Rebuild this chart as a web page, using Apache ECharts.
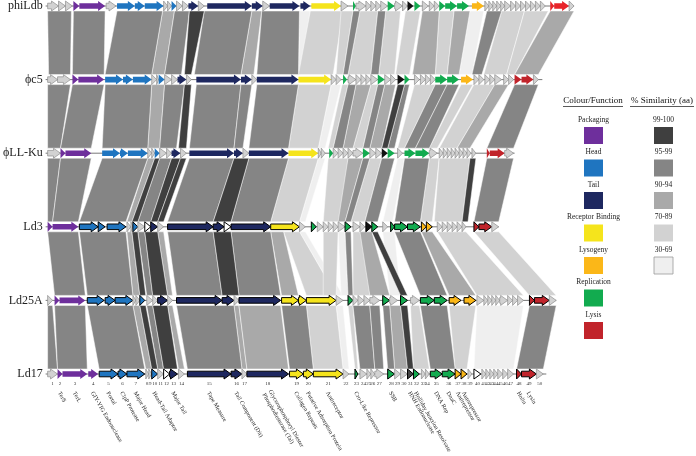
<!DOCTYPE html>
<html><head><meta charset="utf-8">
<script src="https://cdn.jsdelivr.net/npm/echarts/dist/echarts.min.js"></script>
<style>html,body{margin:0;padding:0;background:#fff}#c{width:696px;height:456px}</style>
</head><body><div id="c"></div>
<script>
// ---------------- DATA ----------------
const genomes = ['phiLdb', 'ϕc5', 'ϕLL-Ku', 'Ld3', 'Ld25A', 'Ld17'];
const genomeSpan = [[40,573],[40,541],[40,513],[40,497],[40,555],[40,545]];

// genes: [start, end, function]  p=packaging h=head t=tail r=receptor binding y=lysogeny R=replication l=lysis L=lysis(bright) g=other k=black d=dark w=hollow
const genes_phiLdb = [[42,53,'g'],[53,60,'g'],[60,67,'g'],[68,74,'p'],[74,100,'p'],[101,111,'g'],[112,130,'h'],[130,140,'h'],[140,159,'h'],[159,163,'g'],[163,167,'g'],[167,172,'h'],[172,178,'g'],[178,184,'g'],[184,194,'t'],[194,200,'g'],[203,248,'t'],[248,259,'t'],[259,266,'g'],[266,296,'t'],[297,307,'t'],[308,338,'r'],[338,345,'g'],[350,353,'R'],[353,363,'g'],[363,368,'g'],[368,373,'g'],[373,378,'g'],[378,385,'g'],[385,392,'R'],[392,400,'g'],[400,405,'g'],[405,411,'k'],[412,418,'R'],[420,426,'g'],[427,432,'g'],[432,437,'g'],[437,443,'R'],[443,455,'R'],[455,467,'R'],[470,482,'y'],[483,487,'g'],[487,491,'g'],[491,495,'g'],[495,499,'g'],[499,503,'g'],[503,509,'g'],[509,514,'g'],[514,519,'g'],[519,524,'g'],[524,529,'g'],[529,534,'g'],[534,539,'g'],[539,544,'g'],[549,553,'L'],[553,568,'L'],[568,573,'g']];
const genes_c5 = [[42,52,'g'],[52,65,'g'],[67,73,'p'],[73,99,'p'],[100,118,'h'],[118,128,'h'],[128,147,'h'],[147,152,'g'],[152,154,'g'],[154,160,'h'],[160,167,'g'],[167,173,'g'],[173,182,'t'],[182,187,'g'],[192,237,'t'],[237,248,'t'],[248,253,'g'],[253,295,'t'],[295,328,'r'],[328,333,'g'],[333,338,'g'],[340,344,'R'],[345,353,'g'],[353,358,'g'],[358,363,'g'],[363,368,'g'],[368,375,'g'],[375,382,'R'],[382,388,'g'],[388,393,'g'],[395,402,'k'],[402,407,'R'],[412,417,'g'],[418,423,'g'],[423,428,'g'],[428,433,'g'],[433,445,'R'],[445,457,'R'],[459,471,'y'],[472,477,'g'],[477,482,'g'],[483,488,'g'],[488,493,'g'],[493,500,'g'],[502,507,'g'],[507,512,'g'],[513,520,'l'],[520,532,'l'],[532,537,'g']];
const genes_LLKu = [[42,55,'g'],[55,60,'p'],[60,86,'p'],[97,115,'h'],[115,123,'h'],[123,143,'h'],[143,147,'g'],[147,150,'g'],[150,155,'h'],[155,162,'g'],[162,167,'g'],[167,176,'t'],[176,182,'g'],[185,230,'t'],[230,239,'t'],[239,245,'g'],[245,285,'t'],[285,315,'r'],[315,318,'g'],[318,322,'g'],[326,330,'R'],[330,335,'g'],[335,340,'g'],[340,345,'g'],[345,350,'g'],[350,360,'g'],[360,367,'R'],[367,373,'g'],[373,379,'g'],[379,385,'k'],[385,392,'R'],[395,400,'g'],[402,413,'R'],[413,427,'R'],[427,435,'g'],[437,441,'g'],[441,445,'g'],[445,449,'g'],[449,453,'g'],[453,457,'g'],[457,461,'g'],[461,465,'g'],[465,469,'g'],[470,474,'g'],[485,488,'l'],[488,503,'l'],[503,512,'g']];
const genes_Ld3 = [[42,47,'p'],[47,73,'p'],[74,93,'h'],[93,100,'h'],[102,121,'h'],[122,126,'g'],[126,128,'g'],[128,133,'h'],[133,140,'g'],[140,146,'w'],[146,153,'t'],[153,159,'g'],[163,209,'t'],[209,220,'t'],[220,227,'w'],[227,267,'t'],[267,296,'r'],[296,302,'g'],[308,313,'R'],[314,320,'g'],[320,325,'g'],[325,330,'g'],[330,335,'g'],[335,342,'g'],[342,348,'R'],[350,357,'g'],[357,362,'g'],[363,369,'k'],[369,375,'R'],[380,385,'g'],[388,392,'R'],[392,405,'R'],[405,418,'R'],[419,424,'y'],[424,430,'y'],[435,440,'g'],[440,445,'g'],[445,450,'g'],[450,455,'g'],[455,460,'g'],[460,464,'g'],[472,477,'l'],[477,490,'l'],[490,497,'g']];
const genes_Ld25A = [[42,47,'g'],[49,54,'p'],[54,80,'p'],[82,99,'h'],[100,110,'h'],[110,128,'h'],[128,131,'g'],[131,135,'g'],[135,140,'h'],[142,148,'g'],[148,153,'g'],[153,163,'t'],[163,168,'g'],[172,218,'t'],[218,230,'t'],[230,235,'g'],[235,277,'t'],[278,295,'r'],[295,303,'r'],[303,333,'r'],[333,340,'g'],[345,350,'R'],[350,355,'g'],[355,361,'g'],[361,367,'g'],[367,377,'g'],[380,387,'R'],[387,395,'g'],[398,405,'R'],[408,417,'g'],[418,432,'R'],[432,445,'R'],[447,459,'y'],[462,474,'y'],[475,482,'g'],[482,486,'g'],[486,490,'g'],[490,494,'g'],[494,498,'g'],[498,506,'g'],[506,511,'g'],[511,516,'g'],[516,522,'g'],[528,533,'l'],[533,548,'l'],[548,555,'g']];
const genes_Ld17 = [[42,52,'g'],[52,57,'p'],[57,82,'p'],[83,93,'p'],[94,113,'h'],[113,122,'h'],[122,140,'h'],[141,144,'g'],[144,147,'g'],[147,153,'h'],[153,159,'g'],[159,165,'w'],[165,173,'t'],[174,180,'g'],[183,227,'t'],[227,238,'t'],[238,243,'g'],[243,285,'t'],[286,300,'r'],[300,310,'r'],[310,340,'r'],[340,346,'g'],[352,355,'R'],[357,364,'g'],[364,368,'g'],[368,372,'g'],[372,381,'g'],[385,392,'R'],[392,398,'g'],[398,405,'g'],[405,411,'d'],[411,417,'R'],[419,423,'g'],[423,427,'g'],[428,440,'R'],[440,453,'R'],[453,459,'y'],[459,465,'y'],[466,470,'g'],[472,479,'w'],[480,484,'g'],[484,488,'g'],[488,492,'g'],[492,496,'g'],[496,501,'g'],[501,506,'g'],[506,512,'g'],[515,520,'l'],[520,535,'l'],[535,542,'g']];

// similarity links between consecutive genomes: [topStart, topEnd, bottomStart, bottomEnd, similarityClass]
// class 0=99-100 1=95-99 2=90-94 3=70-89 4=30-69
const links_phiLdb_c5 = [[42,66,43,65,1],[68,100,67,99,1],[112,158,100,147,1],[158,170,147,160,2],[170,185,160,177,1],[185,200,180,187,0],[200,248,190,237,1],[248,258,237,250,2],[258,296,253,295,1],[296,307,295,298,4],[307,340,295,330,3],[338,350,333,340,3],[350,357,340,345,1],[357,375,345,368,3],[375,383,368,376,1],[383,398,376,392,3],[403,418,393,407,3],[420,437,410,433,2],[437,452,433,445,3],[452,468,445,457,2],[468,482,457,470,4],[485,500,470,480,1],[500,523,482,505,3],[523,547,505,513,3],[549,573,513,537,2]];
const links_c5_LLKu = [[42,65,42,55,1],[67,99,55,86,1],[100,147,97,143,1],[147,160,143,155,2],[160,180,155,172,1],[180,187,174,182,0],[192,237,185,230,1],[237,248,230,239,1],[253,295,245,285,1],[295,328,285,315,3],[328,338,315,322,4],[339,345,325,330,3],[345,353,330,340,1],[353,368,340,350,2],[368,375,350,360,3],[375,382,360,367,1],[382,393,367,379,2],[395,402,379,385,0],[402,407,385,392,1],[412,433,395,402,3],[433,445,402,413,1],[445,457,413,427,1],[459,471,427,435,3],[472,493,437,455,3],[493,507,455,468,2],[513,537,485,512,1]];
const links_LLKu_Ld3 = [[42,55,42,47,1],[55,86,47,73,1],[97,143,74,121,1],[143,150,122,127,2],[150,155,127,133,0],[155,167,133,146,1],[167,176,146,153,0],[176,182,153,159,0],[185,230,163,209,1],[230,245,209,227,0],[245,285,227,267,1],[285,315,267,296,3],[315,322,296,302,4],[325,345,320,340,3],[345,360,335,342,2],[360,367,342,348,1],[367,379,348,362,3],[379,392,362,375,1],[395,402,380,390,4],[402,427,392,418,1],[427,437,418,430,3],[437,468,432,460,3],[468,474,460,466,0],[485,512,472,497,1]];
const links_Ld3_Ld25A = [[42,73,49,80,1],[74,121,82,128,1],[122,127,128,135,2],[127,133,135,141,0],[133,140,142,148,1],[140,153,148,163,0],[153,159,163,168,2],[163,209,172,218,1],[209,227,218,235,0],[227,267,235,277,1],[267,280,278,295,2],[280,296,303,333,3],[296,302,333,340,4],[320,335,320,333,3],[335,342,338,345,4],[342,348,345,350,1],[350,362,350,367,3],[357,369,367,387,2],[369,375,398,405,0],[380,392,387,398,4],[392,418,418,445,1],[419,430,447,474,2],[435,464,475,522,3],[472,497,528,555,3]];
const links_Ld25A_Ld17 = [[42,47,42,52,1],[49,80,52,82,1],[82,128,94,140,1],[128,135,141,147,2],[135,141,147,153,0],[142,148,153,159,1],[148,163,159,173,0],[163,168,174,180,2],[172,230,183,238,1],[230,235,238,243,2],[235,277,243,285,2],[278,303,286,310,1],[303,333,310,340,3],[333,340,340,346,4],[345,350,352,355,3],[350,367,357,372,1],[367,377,372,381,1],[380,387,385,392,1],[387,398,392,405,2],[398,405,405,411,0],[408,417,411,427,3],[418,445,428,453,1],[447,474,453,465,3],[475,522,472,512,4],[528,555,515,542,1]];

// Ld17 gene annotations: [gene number, text]
const annotations = [[2,'TerS'],[3,'TerL'],[4,'GIY-YIG Endonuclease'],[5,'Portal'],[6,'ClpP Protease'],[7,'Major Head'],[10,'Head-Tail Adaptor'],[13,'Major Tail'],[15,'Tape Measure'],[16,'Tail Component (Dit)'],[18,'Glycerophosphoryl Diester\nPhosphodiesterase (Tal)'],[19,'Collagen Repeats'],[20,'Putative Adsorption Protein'],[21,'Antireceptor'],[23,'Cro-Like Repressor'],[28,'SSB'],[31,'HNH Endonuclease'],[32,'Holliday Junction Resolvase'],[35,'DNA Rep'],[36,'DnaC'],[37,'Antirepressor'],[38,'Autorepressor'],[48,'Holin'],[49,'Lysin']];

const functionNames = ['Packaging','Head','Tail','Receptor Binding','Lysogeny','Replication','Lysis'];
const functionKeys = ['p','h','t','r','y','R','l'];
const similarityNames = ['99-100','95-99','90-94','70-89','30-69'];

// ---------------- STYLE ----------------
const fnColor = {p:'#6e2f9c', h:'#1f75c0', t:'#1e2860', r:'#f5e41c', y:'#fbb718', R:'#12ab4f', l:'#c1242b', L:'#e8242a', k:'#111111', d:'#444444', w:'#ffffff', g:'#d2d2d2'};
const simColor = ['#3f3f3f','#858585','#a9a9a9','#d2d2d2','#efefef'];
const SERIF = '"Liberation Serif","Times New Roman",serif';

const allGenes = [genes_phiLdb, genes_c5, genes_LLKu, genes_Ld3, genes_Ld25A, genes_Ld17];
const allLinks = [links_phiLdb_c5, links_c5_LLKu, links_LLKu_Ld3, links_Ld3_Ld25A, links_Ld25A_Ld17];

const geneData = [];
allGenes.forEach((arr, r) => arr.forEach(g => geneData.push([g[0], g[1], r, g[2]])));
const linkData = [];
allLinks.forEach((arr, r) => {
  arr.slice().sort((a,b)=>b[4]-a[4]).forEach(l => linkData.push([l[0], l[1], l[2], l[3], r, l[4]]));
});
const spanData = genomeSpan.map((s, r) => [s[0], s[1], r]);
const numberData = genes_Ld17.map((g, i) => [(g[0]+g[1])/2, 5, String(i+1)]);
const annoData = annotations.map(a => { const g = genes_Ld17[a[0]-1]; return [(g[0]+g[1])/2, 5, a[1]]; });

function arrow(x1, x2, y) {
  const w = x2 - x1, hl = Math.min(w, 7), bh = 2.8, hh = 5;
  if (w <= 7.5) return [[x1,y-hh],[x2,y],[x1,y+hh]];
  return [[x1,y-bh],[x2-hl,y-bh],[x2-hl,y-hh],[x2,y],[x2-hl,y+hh],[x2-hl,y+bh],[x1,y+bh]];
}

const chart = echarts.init(document.getElementById('c'), null, {renderer:'canvas'});

const graphic = [];
// legend headers
graphic.push({type:'text', x:593, y:101, style:{text:'Colour/Function', font:'9px '+SERIF, fill:'#111', align:'center', verticalAlign:'middle'}});
graphic.push({type:'line', shape:{x1:563, y1:106.5, x2:623, y2:106.5}, style:{stroke:'#111', lineWidth:0.7}});
graphic.push({type:'text', x:662, y:101, style:{text:'% Similarity (aa)', font:'9px '+SERIF, fill:'#111', align:'center', verticalAlign:'middle'}});
graphic.push({type:'line', shape:{x1:630, y1:106.5, x2:694, y2:106.5}, style:{stroke:'#111', lineWidth:0.7}});
functionNames.forEach((n, i) => {
  const top = 127 + i*32.5;
  graphic.push({type:'text', x:593.5, y:top-7, style:{text:n, font:'7.5px '+SERIF, fill:'#222', align:'center', verticalAlign:'middle'}});
  graphic.push({type:'rect', shape:{x:584, y:top, width:19, height:17}, style:{fill:fnColor[functionKeys[i]]}});
});
similarityNames.forEach((n, i) => {
  const top = 127 + i*32.5;
  graphic.push({type:'text', x:663.5, y:top-7, style:{text:n, font:'7.5px '+SERIF, fill:'#222', align:'center', verticalAlign:'middle'}});
  graphic.push({type:'rect', shape:{x:654, y:top, width:19, height:17}, style:{fill:simColor[i], stroke: i===4 ? '#999' : null, lineWidth:0.8}});
});

chart.setOption({
  animation: false,
  backgroundColor: '#fff',
  grid: {left: 40, right: 0, top: 6, bottom: 82},
  xAxis: {type:'value', min:40, max:696, show:false},
  yAxis: {type:'category', data: genomes, inverse:true, boundaryGap:false,
    axisLine:{show:false}, axisTick:{show:false}, splitLine:{show:false},
    axisLabel:{fontFamily: SERIF, fontSize:12, color:'#222', margin:3}},
  graphic: graphic,
  series: [
    { type:'custom', clip:false, data: linkData, encode:{x:[0,1,2,3], y:4},
      renderItem: (p, api) => {
        const r = api.value(4), off = 5;
        const a = api.coord([api.value(0), r]), b = api.coord([api.value(1), r]);
        const c = api.coord([api.value(3), r+1]), d = api.coord([api.value(2), r+1]);
        return {type:'polygon', shape:{points:[[a[0],a[1]+off],[b[0],b[1]+off],[c[0],c[1]-off],[d[0],d[1]-off]]},
          style:{fill: simColor[api.value(5)], stroke:'#ffffff', lineWidth:0.5}};
      }},
    { type:'custom', clip:false, data: spanData, encode:{x:[0,1], y:2},
      renderItem: (p, api) => {
        const a = api.coord([api.value(0), api.value(2)]), b = api.coord([api.value(1), api.value(2)]);
        return {type:'line', shape:{x1:a[0], y1:a[1], x2:b[0], y2:b[1]}, style:{stroke:'#555', lineWidth:0.8}};
      }},
    { type:'custom', clip:false, data: geneData, encode:{x:[0,1], y:2},
      renderItem: (p, api) => {
        const r = api.value(2), f = api.value(3);
        const a = api.coord([api.value(0), r]), b = api.coord([api.value(1), r]);
        let stroke = null, lw = 0;
        if (f === 'g') { stroke = '#8e8e8e'; lw = 0.7; }
        else if (r >= 3 && f !== 'p') { stroke = '#000'; lw = 1; }
        return {type:'polygon', shape:{points: arrow(a[0], b[0], a[1])}, style:{fill: fnColor[f], stroke: stroke, lineWidth: lw, lineJoin:'miter'}};
      }},
    { type:'custom', clip:false, data: numberData, encode:{x:0, y:1},
      renderItem: (p, api) => {
        const a = api.coord([api.value(0), api.value(1)]);
        return {type:'text', x:a[0], y:a[1]+10, style:{text: api.value(2), font:'5px '+SERIF, fill:'#333', align:'center', verticalAlign:'middle'}};
      }},
    { type:'custom', clip:false, data: annoData, encode:{x:0, y:1},
      renderItem: (p, api) => {
        const a = api.coord([api.value(0), api.value(1)]);
        return {type:'text', x:a[0]-1, y:a[1]+18, rotation:-Math.PI/3, style:{text: annoData[p.dataIndex][2], font:'6px '+SERIF, fill:'#222', align:'left', verticalAlign:'middle', lineHeight:7}};
      }}
  ]
});
</script>
</body></html>
